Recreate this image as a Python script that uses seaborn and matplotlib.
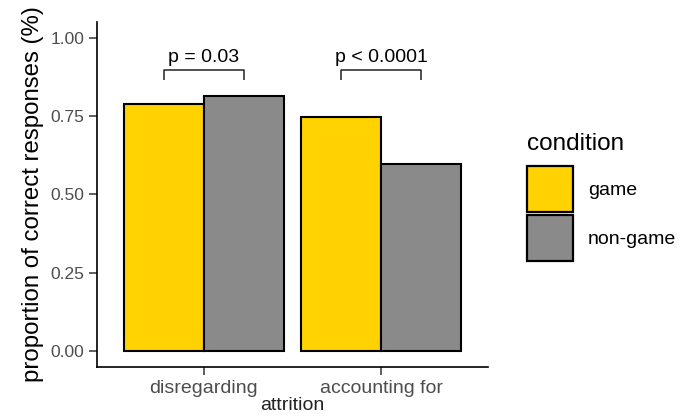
import matplotlib
matplotlib.use("Agg")
import matplotlib.pyplot as plt
import seaborn as sns
import pandas as pd
from matplotlib.patches import Patch

# Proportion of correct responses by attrition handling and condition
attrition = ["disregarding", "accounting for"]
conditions = ["game", "non-game"]
game_values = [0.787, 0.747]
nongame_values = [0.813, 0.596]
p_labels = ["p = 0.03", "p < 0.0001"]
bracket_y = [0.898, 0.898]

colors = {"game": "#FFD200", "non-game": "#8A8A8A"}

df = pd.DataFrame({
    "attrition": attrition * 2,
    "condition": ["game"] * 2 + ["non-game"] * 2,
    "proportion": game_values + nongame_values,
})

sns.set_theme(style="ticks")
plt.rcParams["font.family"] = ["Liberation Sans", "DejaVu Sans"]

W, H = 688, 419
fig = plt.figure(figsize=(W / 100, H / 100), dpi=100)
fig.patch.set_facecolor("white")
ax = fig.add_axes([0.141, 0.1241, 0.5683, 0.8234])
ax.set_facecolor("white")

sns.barplot(data=df, x="attrition", y="proportion", hue="condition",
            order=attrition, hue_order=conditions, palette=colors,
            width=0.9, saturation=1, edgecolor="black", linewidth=1.5,
            errorbar=None, ax=ax, legend=False)

# significance brackets between the two bars of each group
half = 0.9 / 4
tip = 0.034
for i, (lab, by) in enumerate(zip(p_labels, bracket_y)):
    x0, x1 = i - half, i + half
    ax.plot([x0, x0, x1, x1], [by - tip, by, by, by - tip],
            color="#222222", lw=1.1, solid_capstyle="butt")
    ax.text(i, by + 0.024, lab, ha="center", va="baseline",
            fontsize=14, color="black")

ax.set_xlim(-0.6, 1.6)
ax.set_ylim(-0.05, 1.05)
ax.set_yticks([0, 0.25, 0.5, 0.75, 1.0])
ax.set_yticklabels(["0.00", "0.25", "0.50", "0.75", "1.00"])
ax.set_xlabel("attrition", fontsize=14, color="#222222", labelpad=0)
ax.set_ylabel("proportion of correct responses (%)", fontsize=17.3,
              color="black", labelpad=5)

for side in ["top", "right"]:
    ax.spines[side].set_visible(False)
for side in ["left", "bottom"]:
    ax.spines[side].set_color("black")
    ax.spines[side].set_linewidth(1.2)
ax.grid(False)
ax.tick_params(axis="both", which="both", direction="out", length=6,
               width=1.1, color="#333333", top=False, right=False)
ax.tick_params(axis="y", labelsize=12.5, labelcolor="#4D4D4D", pad=3)
ax.tick_params(axis="x", labelsize=14, labelcolor="#4D4D4D", pad=3)

# legend: title set a little apart from the keys
fig.text(527 / W, 1 - 150 / H, "condition", fontsize=17.5, color="black",
         ha="left", va="baseline")
handles = [Patch(facecolor=colors[c], edgecolor="black", linewidth=1.6)
           for c in conditions]
leg = ax.legend(handles, conditions, frameon=False,
                loc="upper left", bbox_to_anchor=(527 / W, 1 - 166 / H),
                bbox_transform=fig.transFigure, labelcolor="black",
                fontsize=14, handlelength=2.37,
                handleheight=3.26, handletextpad=0.77, labelspacing=0.18,
                borderaxespad=0, borderpad=0)

fig.savefig("out.png", dpi=100, facecolor="white")
